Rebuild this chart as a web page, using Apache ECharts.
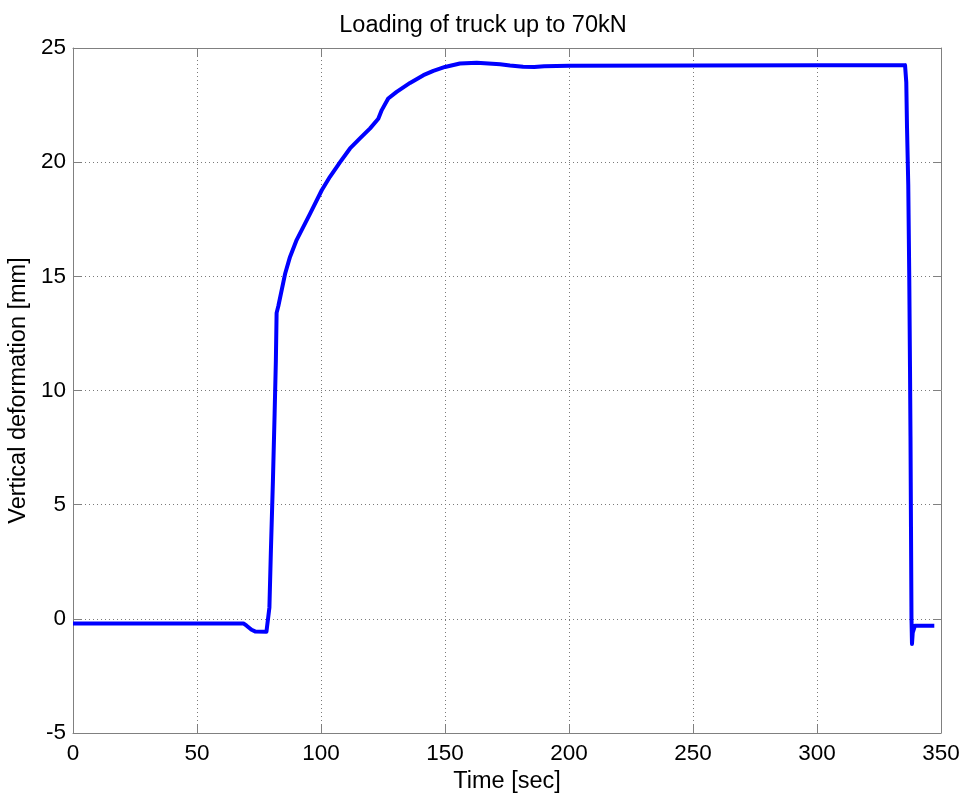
<!DOCTYPE html>
<html>
<head>
<meta charset="utf-8">
<script src="https://cdn.jsdelivr.net/npm/echarts@6/dist/echarts.min.js"></script>
<style>
html,body{margin:0;padding:0;background:#fff;}
#chart{width:966px;height:796px;}
</style>
</head>
<body>
<div id="chart"></div>
<script>
// Time [sec]
var timeSec = [0, 30, 68.7, 70, 72, 73.4, 78.0, 78.6, 79.2, 79.8, 80.6, 81.3, 81.8, 82.1, 82.8,
  85.5, 87.5, 90.2, 95.6, 100.3, 103.6, 107.7, 111.7, 115.7, 119.8, 123.1, 124.5, 127.1, 130.5,
  135.9, 141.3, 145.3, 150, 156, 162.8, 172.2, 176.2, 181.5, 186, 190, 200, 250, 300, 335.5,
  336.0, 336.3, 336.8, 337.2, 337.5, 337.7, 337.9, 338.1, 338.3, 338.6, 339.5, 347.3];
// Vertical deformation [mm]
var deformMm = [-0.2, -0.2, -0.2, -0.3, -0.48, -0.55, -0.57, -0.5, 0.5, 3, 6, 9, 11.3, 13.4, 13.7,
  15.1, 15.85, 16.6, 17.75, 18.77, 19.36, 20.0, 20.6, 21.04, 21.48, 21.9, 22.28, 22.79, 23.08,
  23.47, 23.81, 24.0, 24.17, 24.32, 24.35, 24.29, 24.23, 24.18, 24.17, 24.2, 24.22, 24.23, 24.24, 24.25,
  23.5, 21.5, 19, 15, 11, 8, 4, 0, -1.1, -0.6, -0.3, -0.3];
var xTicks = [0, 50, 100, 150, 200, 250, 300, 350];
var yTicks = [-5, 0, 5, 10, 15, 20, 25];

var seriesData = timeSec.map(function (t, i) { return [t, deformMm[i]]; });

var FONT = 'Liberation Sans, Arial, sans-serif';
var axisColor = '#808080';
var chart = echarts.init(document.getElementById('chart'), null, {renderer: 'canvas'});

var xBase = {
  type: 'value', min: xTicks[0], max: xTicks[xTicks.length - 1], interval: xTicks[1] - xTicks[0],
  axisLine: {show: true, onZero: false, lineStyle: {color: axisColor, width: 1}},
  axisTick: {show: true, inside: true, length: 8, lineStyle: {color: axisColor}}
};
var yBase = {
  type: 'value', min: yTicks[0], max: yTicks[yTicks.length - 1], interval: yTicks[1] - yTicks[0],
  axisLine: {show: true, onZero: false, lineStyle: {color: axisColor, width: 1}},
  axisTick: {show: true, inside: true, length: 8, lineStyle: {color: axisColor}}
};

var option = {
  backgroundColor: '#ffffff',
  animation: false,
  title: {
    text: 'Loading of truck up to 70kN',
    left: 'center', top: 9,
    textStyle: {fontFamily: FONT, fontSize: 23.5, fontWeight: 'normal', color: '#000'}
  },
  grid: {left: 73, right: 25, top: 48, bottom: 63, containLabel: false, outerBoundsMode: 'none'},
  xAxis: [
    Object.assign({}, xBase, {
      position: 'bottom',
      name: 'Time [sec]', nameLocation: 'middle', nameGap: 33,
      nameTextStyle: {fontFamily: FONT, fontSize: 23.5, color: '#000'},
      axisLabel: {show: true, margin: 9, fontFamily: FONT, fontSize: 22.5, color: '#000'},
      splitLine: {show: true, lineStyle: {color: '#7a7a7a', type: [1, 3], width: 1}}
    }),
    Object.assign({}, xBase, {
      position: 'top',
      axisLabel: {show: false},
      splitLine: {show: false}
    })
  ],
  yAxis: [
    Object.assign({}, yBase, {
      position: 'left',
      name: 'Vertical deformation [mm]', nameLocation: 'middle', nameGap: 37,
      nameTextStyle: {fontFamily: FONT, fontSize: 23.5, color: '#000'},
      axisLabel: {show: true, margin: 7, fontFamily: FONT, fontSize: 22.5, color: '#000'},
      splitLine: {show: true, lineStyle: {color: '#7a7a7a', type: [1, 3], width: 1}}
    }),
    Object.assign({}, yBase, {
      position: 'right',
      axisLabel: {show: false},
      splitLine: {show: false}
    })
  ],
  series: [{
    type: 'line',
    data: seriesData,
    xAxisIndex: 0, yAxisIndex: 0,
    showSymbol: false,
    symbol: 'none',
    smooth: false,
    lineStyle: {color: '#0000ff', width: 4, join: 'round'},
    z: 5
  }]
};
chart.setOption(option);
</script>
</body>
</html>
